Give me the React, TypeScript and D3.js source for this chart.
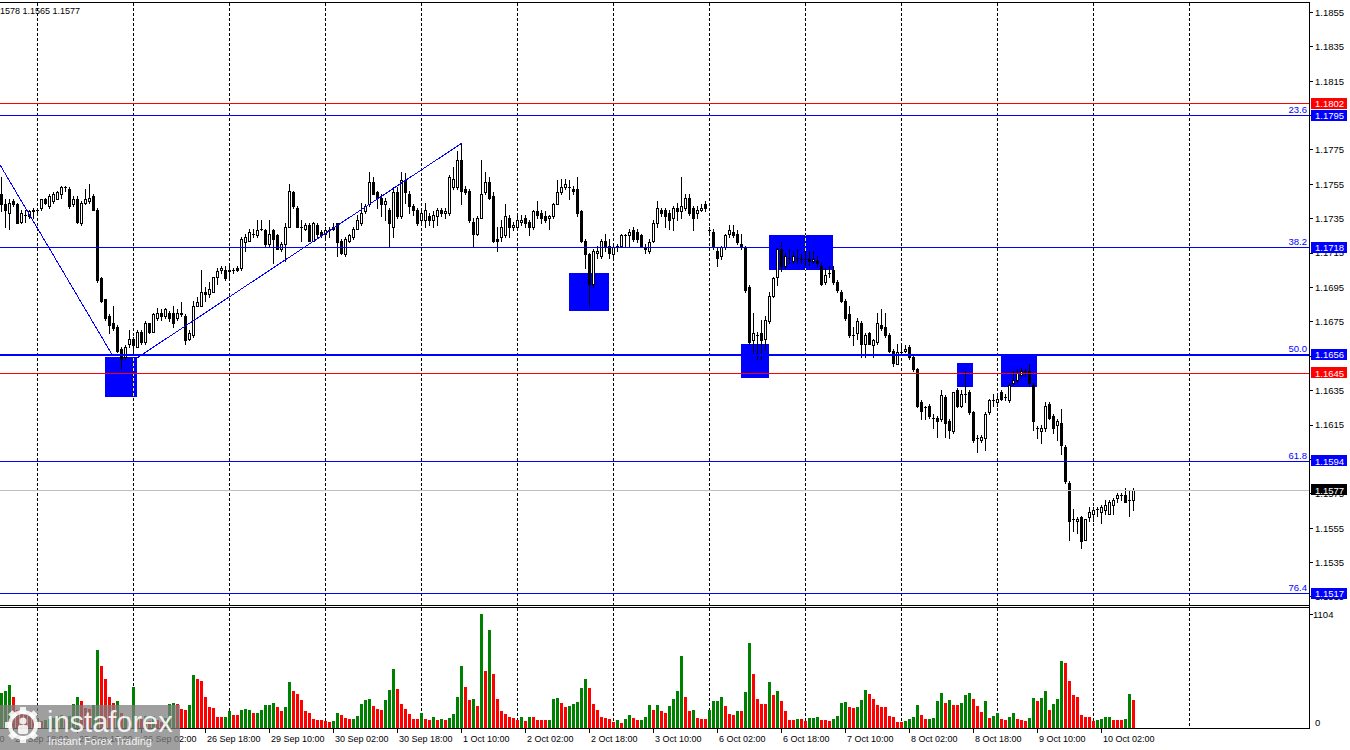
import React from "react";
import * as d3 from "d3";

// ---------- DATA (EURUSD H1) ----------
const opens = [
  1.1749,1.1743,1.1738,1.1745,1.1743,1.1733,1.1737,1.1736,1.1739,1.1740,
  1.1741,1.1746,1.1742,1.1745,1.1746,1.1749,1.1753,1.1752,1.1743,1.1746,
  1.1732,1.1744,1.1745,1.1748,1.1740,1.1700,1.1688,1.1678,1.1674,1.1672,
  1.1659,1.1654,1.1662,1.1665,1.1660,1.1669,1.1663,1.1674,1.1669,1.1677,
  1.1680,1.1678,1.1680,1.1680,1.1677,1.1680,1.1678,1.1665,1.1667,1.1684,
  1.1684,1.1692,1.1691,1.1692,1.1701,1.1705,1.1705,1.1704,1.1705,1.1706,
  1.1706,1.1721,1.1722,1.1726,1.1725,1.1729,1.1728,1.1720,1.1728,1.1725,
  1.1717,1.1720,1.1730,1.1750,1.1741,1.1730,1.1729,1.1731,1.1722,1.1731,
  1.1727,1.1726,1.1728,1.1729,1.1732,1.1722,1.1714,1.1722,1.1724,1.1729,
  1.1732,1.1739,1.1743,1.1756,1.1750,1.1747,1.1743,1.1740,1.1730,1.1750,
  1.1736,1.1757,1.1749,1.1742,1.1740,1.1734,1.1734,1.1736,1.1734,1.1736,
  1.1740,1.1738,1.1738,1.1753,1.1753,1.1769,1.1752,1.1751,1.1733,1.1726,
  1.1735,1.1750,1.1756,1.1748,1.1723,1.1724,1.1725,1.1735,1.1730,1.1730,
  1.1733,1.1735,1.1733,1.1730,1.1739,1.1738,1.1736,1.1735,1.1736,1.1743,
  1.1750,1.1753,1.1753,1.1752,1.1752,1.1739,1.1722,1.1714,1.1697,1.1715,
  1.1713,1.1722,1.1719,1.1714,1.1718,1.1719,1.1725,1.1725,1.1728,1.1727,
  1.1725,1.1718,1.1716,1.1722,1.1732,1.1740,1.1740,1.1738,1.1735,1.1741,
  1.1739,1.1741,1.1747,1.1741,1.1738,1.1740,1.1743,1.1728,1.1727,1.1716,
  1.1713,1.1718,1.1726,1.1727,1.1726,1.1720,1.1718,1.1695,1.1664,1.1667,
  1.1668,1.1665,1.1675,1.1690,1.1701,1.1717,1.1707,1.1712,1.1710,1.1712,
  1.1711,1.1711,1.1711,1.1710,1.1710,1.1707,1.1698,1.1703,1.1705,1.1698,
  1.1692,1.1687,1.1679,1.1667,1.1668,1.1674,1.1662,1.1668,1.1661,1.1663,
  1.1673,1.1672,1.1667,1.1658,1.1650,1.1657,1.1658,1.1660,1.1654,1.1647,
  1.1628,1.1625,1.1626,1.1619,1.1619,1.1618,1.1631,1.1617,1.1611,1.1635,
  1.1626,1.1633,1.1634,1.1622,1.1607,1.1606,1.1607,1.1622,1.1629,1.1628,
  1.1634,1.1631,1.1629,1.1639,1.1641,1.1644,1.1646,1.1646,1.1638,1.1613,
  1.1611,1.1613,1.1627,1.1620,1.1615,1.1616,1.1602,1.1581,1.1560,1.1559,
  1.1561,1.1548,1.1561,1.1563,1.1566,1.1564,1.1565,1.1563,1.1568,1.1572,
  1.1574,1.1574,1.1571,1.1571,
];
const highs = [
  1.1759,1.1746,1.1746,1.1746,1.1744,1.1740,1.1740,1.1740,1.1741,1.1741,
  1.1746,1.1747,1.1749,1.1750,1.1751,1.1754,1.1754,1.1753,1.1748,1.1748,
  1.1745,1.1752,1.1755,1.1749,1.1741,1.1701,1.1688,1.1679,1.1684,1.1673,
  1.1660,1.1661,1.1670,1.1666,1.1670,1.1670,1.1675,1.1674,1.1680,1.1683,
  1.1682,1.1683,1.1681,1.1684,1.1682,1.1686,1.1679,1.1670,1.1687,1.1689,
  1.1705,1.1695,1.1698,1.1701,1.1706,1.1707,1.1707,1.1707,1.1706,1.1707,
  1.1724,1.1726,1.1729,1.1729,1.1734,1.1734,1.1729,1.1734,1.1729,1.1726,
  1.1721,1.1732,1.1755,1.1751,1.1742,1.1734,1.1732,1.1732,1.1733,1.1732,
  1.1728,1.1730,1.1730,1.1732,1.1732,1.1723,1.1724,1.1726,1.1730,1.1737,
  1.1744,1.1743,1.1762,1.1759,1.1751,1.1749,1.1747,1.1741,1.1753,1.1753,
  1.1762,1.1761,1.1751,1.1743,1.1741,1.1740,1.1744,1.1738,1.1739,1.1741,
  1.1741,1.1741,1.1760,1.1765,1.1774,1.1779,1.1754,1.1752,1.1735,1.1736,
  1.1769,1.1762,1.1759,1.1750,1.1730,1.1734,1.1743,1.1737,1.1733,1.1738,
  1.1737,1.1737,1.1734,1.1740,1.1745,1.1740,1.1739,1.1737,1.1744,1.1757,
  1.1758,1.1758,1.1757,1.1754,1.1759,1.1740,1.1723,1.1715,1.1717,1.1719,
  1.1723,1.1726,1.1723,1.1720,1.1720,1.1726,1.1726,1.1729,1.1730,1.1729,
  1.1726,1.1720,1.1723,1.1734,1.1745,1.1741,1.1741,1.1740,1.1742,1.1744,
  1.1759,1.1749,1.1749,1.1742,1.1742,1.1743,1.1745,1.1730,1.1729,1.1718,
  1.1719,1.1726,1.1731,1.1731,1.1728,1.1726,1.1719,1.1696,1.1680,1.1669,
  1.1676,1.1678,1.1692,1.1701,1.1718,1.1721,1.1715,1.1717,1.1716,1.1717,
  1.1714,1.1716,1.1716,1.1716,1.1713,1.1709,1.1706,1.1707,1.1707,1.1699,
  1.1693,1.1688,1.1684,1.1672,1.1677,1.1675,1.1668,1.1669,1.1665,1.1680,
  1.1682,1.1680,1.1668,1.1659,1.1662,1.1662,1.1661,1.1661,1.1655,1.1648,
  1.1629,1.1626,1.1627,1.1621,1.1620,1.1635,1.1632,1.1618,1.1634,1.1636,
  1.1635,1.1646,1.1635,1.1623,1.1609,1.1609,1.1622,1.1630,1.1633,1.1633,
  1.1635,1.1633,1.1639,1.1646,1.1647,1.1648,1.1647,1.1650,1.1639,1.1614,
  1.1615,1.1628,1.1628,1.1621,1.1618,1.1624,1.1603,1.1582,1.1566,1.1561,
  1.1562,1.1560,1.1567,1.1567,1.1567,1.1568,1.1571,1.1571,1.1572,1.1575,
  1.1575,1.1578,1.1577,1.1578,
];
const lows = [
  1.1739,1.1730,1.1729,1.1742,1.1732,1.1732,1.1733,1.1735,1.1735,1.1738,
  1.1740,1.1743,1.1741,1.1744,1.1746,1.1747,1.1751,1.1741,1.1742,1.1732,
  1.1731,1.1743,1.1744,1.1740,1.1698,1.1686,1.1676,1.1668,1.1670,1.1657,
  1.1647,1.1653,1.1660,1.1656,1.1660,1.1662,1.1662,1.1668,1.1669,1.1676,
  1.1676,1.1677,1.1675,1.1672,1.1676,1.1678,1.1662,1.1664,1.1666,1.1684,
  1.1684,1.1687,1.1689,1.1692,1.1697,1.1703,1.1699,1.1700,1.1703,1.1704,
  1.1705,1.1716,1.1722,1.1724,1.1724,1.1728,1.1719,1.1719,1.1709,1.1717,
  1.1716,1.1710,1.1730,1.1741,1.1730,1.1722,1.1728,1.1722,1.1722,1.1724,
  1.1724,1.1724,1.1724,1.1728,1.1713,1.1714,1.1713,1.1721,1.1723,1.1729,
  1.1731,1.1738,1.1742,1.1749,1.1741,1.1736,1.1734,1.1718,1.1724,1.1735,
  1.1735,1.1744,1.1738,1.1737,1.1731,1.1733,1.1730,1.1731,1.1730,1.1731,
  1.1736,1.1735,1.1737,1.1752,1.1752,1.1743,1.1749,1.1733,1.1718,1.1725,
  1.1735,1.1749,1.1746,1.1721,1.1716,1.1722,1.1724,1.1724,1.1728,1.1729,
  1.1731,1.1730,1.1725,1.1729,1.1735,1.1732,1.1733,1.1729,1.1735,1.1743,
  1.1749,1.1752,1.1746,1.1749,1.1736,1.1721,1.1706,1.1684,1.1695,1.1712,
  1.1712,1.1716,1.1712,1.1712,1.1716,1.1718,1.1718,1.1718,1.1722,1.1721,
  1.1718,1.1715,1.1715,1.1721,1.1730,1.1736,1.1730,1.1729,1.1728,1.1734,
  1.1735,1.1740,1.1737,1.1728,1.1735,1.1739,1.1739,1.1726,1.1717,1.1707,
  1.1711,1.1717,1.1724,1.1724,1.1720,1.1717,1.1692,1.1662,1.1656,1.1653,
  1.1653,1.1659,1.1674,1.1689,1.1696,1.1704,1.1706,1.1709,1.1709,1.1709,
  1.1709,1.1708,1.1708,1.1709,1.1707,1.1696,1.1697,1.1701,1.1697,1.1692,
  1.1686,1.1676,1.1666,1.1661,1.1665,1.1654,1.1654,1.1662,1.1654,1.1662,
  1.1670,1.1666,1.1657,1.1649,1.1650,1.1656,1.1657,1.1653,1.1646,1.1625,
  1.1618,1.1618,1.1619,1.1613,1.1608,1.1617,1.1608,1.1607,1.1610,1.1625,
  1.1625,1.1628,1.1621,1.1605,1.1599,1.1605,1.1600,1.1621,1.1626,1.1626,
  1.1629,1.1629,1.1628,1.1638,1.1640,1.1643,1.1643,1.1638,1.1612,1.1607,
  1.1604,1.1611,1.1618,1.1610,1.1606,1.1598,1.1581,1.1548,1.1553,1.1552,
  1.1543,1.1548,1.1559,1.1559,1.1562,1.1558,1.1563,1.1563,1.1563,1.1570,
  1.1571,1.1570,1.1562,1.1565,
];
const closes = [
  1.1743,1.1740,1.1744,1.1743,1.1732,1.1738,1.1737,1.1739,1.1740,1.1740,
  1.1746,1.1744,1.1748,1.1749,1.1750,1.1753,1.1753,1.1742,1.1746,1.1733,
  1.1744,1.1746,1.1747,1.1740,1.1699,1.1687,1.1677,1.1673,1.1671,1.1658,
  1.1653,1.1660,1.1665,1.1661,1.1669,1.1663,1.1674,1.1669,1.1679,1.1680,
  1.1678,1.1682,1.1677,1.1674,1.1680,1.1679,1.1664,1.1668,1.1684,1.1686,
  1.1692,1.1691,1.1694,1.1701,1.1704,1.1706,1.1700,1.1705,1.1705,1.1705,
  1.1723,1.1724,1.1727,1.1726,1.1728,1.1729,1.1720,1.1726,1.1723,1.1717,
  1.1720,1.1730,1.1751,1.1742,1.1730,1.1730,1.1731,1.1722,1.1732,1.1726,
  1.1725,1.1728,1.1728,1.1730,1.1721,1.1715,1.1723,1.1725,1.1729,1.1734,
  1.1738,1.1742,1.1756,1.1749,1.1747,1.1743,1.1745,1.1732,1.1750,1.1736,
  1.1757,1.1750,1.1742,1.1740,1.1732,1.1738,1.1740,1.1734,1.1737,1.1740,
  1.1738,1.1739,1.1759,1.1758,1.1769,1.1751,1.1750,1.1734,1.1726,1.1735,
  1.1749,1.1756,1.1747,1.1722,1.1722,1.1730,1.1736,1.1730,1.1731,1.1734,
  1.1734,1.1732,1.1730,1.1739,1.1737,1.1735,1.1734,1.1736,1.1743,1.1750,
  1.1753,1.1755,1.1753,1.1751,1.1738,1.1722,1.1714,1.1697,1.1716,1.1716,
  1.1722,1.1718,1.1715,1.1718,1.1719,1.1725,1.1725,1.1727,1.1723,1.1723,
  1.1719,1.1717,1.1721,1.1732,1.1741,1.1738,1.1736,1.1734,1.1741,1.1739,
  1.1742,1.1747,1.1738,1.1735,1.1740,1.1741,1.1741,1.1728,1.1718,1.1712,
  1.1718,1.1725,1.1728,1.1725,1.1721,1.1718,1.1693,1.1663,1.1668,1.1667,
  1.1664,1.1676,1.1690,1.1700,1.1717,1.1707,1.1713,1.1712,1.1713,1.1712,
  1.1711,1.1711,1.1710,1.1711,1.1709,1.1697,1.1702,1.1703,1.1698,1.1693,
  1.1687,1.1677,1.1667,1.1667,1.1675,1.1662,1.1667,1.1662,1.1664,1.1674,
  1.1671,1.1667,1.1658,1.1651,1.1657,1.1657,1.1659,1.1654,1.1647,1.1626,
  1.1623,1.1625,1.1620,1.1619,1.1617,1.1632,1.1616,1.1612,1.1634,1.1626,
  1.1633,1.1633,1.1622,1.1606,1.1607,1.1608,1.1621,1.1629,1.1629,1.1630,
  1.1630,1.1631,1.1638,1.1641,1.1645,1.1646,1.1646,1.1639,1.1617,1.1613,
  1.1613,1.1626,1.1619,1.1613,1.1617,1.1603,1.1582,1.1559,1.1560,1.1560,
  1.1547,1.1560,1.1564,1.1565,1.1566,1.1567,1.1568,1.1570,1.1571,1.1574,
  1.1574,1.1570,1.1571,1.1577,
];
const volumes = [
  332,355,413,300,171,155,123,107,90,92,
  65,68,84,90,107,123,90,107,229,297,
  252,187,181,220,752,591,471,300,242,252,
  139,116,84,397,90,84,107,65,107,74,
  58,90,229,242,229,181,171,220,510,471,
  452,300,197,187,97,97,97,155,123,123,
  171,181,171,136,145,171,220,220,242,194,
  155,197,436,349,329,268,155,145,84,74,
  68,65,58,65,145,123,90,84,84,113,
  232,268,278,210,181,168,268,365,568,374,
  232,181,129,84,80,145,84,71,103,71,
  84,74,90,132,300,591,397,268,278,210,
  1101,549,946,520,278,161,132,97,96,74,
  97,65,103,100,74,72,70,74,278,284,
  242,194,213,232,245,387,471,387,226,171,
  100,90,84,58,74,48,84,123,90,71,
  74,103,220,171,220,155,145,213,278,349,
  688,300,155,171,90,84,82,171,258,260,
  291,213,129,123,161,155,339,823,520,278,
  229,226,436,310,358,252,161,74,72,84,
  82,65,92,95,98,74,68,66,84,107,
  242,245,194,192,200,268,365,326,274,220,
  200,194,107,105,58,58,65,84,103,220,
  123,84,86,94,258,336,239,268,220,218,
  239,316,336,278,210,152,258,94,113,142,
  84,74,103,142,84,74,65,94,287,258,
  287,355,171,229,278,646,626,452,310,297,
  123,103,101,65,74,84,103,104,74,73,
  72,84,326,268,
];
// G = volume bar drawn green (up), R = red (down)
const volumeDirs =
  "GGGR" + "RRRRRGRGGGGGRG" + "GGRRRG" + "GRRRRG" + "RGRGRR" + "GRGRRG" +
  "GGRRRG" + "GRRRRR" + "RRGGRR" + "GGGRGG" + "GGGRRG" + "GRRRRR" +
  "RRRRRG" + "GRRRGG" + "GGGRRR" + "GGGRRR" + "RRRGRR" + "GRGRGG" +
  "GGRRGR" + "GRGRRR" + "RRRRGR" + "GRRRRG" + "GGRRGG" + "GGGRRR" +
  "RRRRGR" + "GGRRGG" + "GRGRRG" + "GGGRRG" + "RRRGGG" + "GRRRGR" +
  "GGRRRR" + "GRGRRR" + "RGRRGG" + "GRRRGG" + "GGRRGG" + "GRRRRR" +
  "RRRRGG" + "GGRRGG" + "GGRGRR" + "GGGRRR" + "GRGGRR" + "GGRRRG" +
  "GRGGRG" + "GGRRRR" + "RRRRGG" + "GGRRRG" + "GR";

const timeLabels = [
  "24 Sep 02:00","24 Sep 18:00","25 Sep 10:00","26 Sep 02:00","26 Sep 18:00",
  "29 Sep 10:00","30 Sep 02:00","30 Sep 18:00","1 Oct 10:00","2 Oct 02:00",
  "2 Oct 18:00","3 Oct 10:00","6 Oct 02:00","6 Oct 18:00","7 Oct 10:00",
  "8 Oct 02:00","8 Oct 18:00","9 Oct 10:00","10 Oct 02:00",
];
const timeLabelBars = [-13,3,19,35,51,67,83,99,115,131,147,163,179,195,211,227,243,259,275];
const gridBars = [9,33,57,81,105,129,153,177,201,225,249,273,297];

const priceTicks = [
  1.1515,1.1535,1.1555,1.1575,1.1595,1.1615,1.1635,1.1655,1.1675,
  1.1695,1.1715,1.1735,1.1755,1.1775,1.1795,1.1815,1.1835,1.1855,
];
const fibPrices = [1.1795, 1.1718, 1.1656, 1.1594, 1.1517];
const fibLabels = ["23.6", "38.2", "50.0", "61.8", "76.4"];
const redLevels = [1.1802, 1.1645];
const bidPrice = 1.1577;
const volumeMax = 1104;
const headerText = "1578 1.1565 1.1577";

const zoneStart = [26, 142, 185, 192, 239, 250];
const zoneEnd = [34, 152, 192, 208, 243, 259];
const zoneHigh = [1.1654, 1.1703, 1.1662, 1.1725, 1.1651, 1.1656];
const zoneLow = [1.1631, 1.1681, 1.1642, 1.1705, 1.1637, 1.1637];

const trendBars = [[-5.25, 27.75], [34, 115.25]];
const trendPrices = [[1.1786, 1.1656], [1.1654, 1.1779]];

// ---------- CHART ----------
const FONT = "'Liberation Sans', Arial, sans-serif";
const RIGHT = 1309;

export default function App() {
  const n = closes.length;
  const x = d3.scaleLinear().domain([0, n - 1]).range([1, 1133]);
  const y = d3.scaleLinear().domain([1.150973, 1.186104]).range([606, 2]);
  const yv = d3.scaleLinear().domain([0, volumeMax]).range([728, 614]);
  const px = (i: number) => Math.round(x(i));
  const py = (p: number) => Math.floor(y(p));
  const fmt = d3.format(".4f");

  const gridLines = (y1: number, y2: number, color: string, key: string, clip?: string) =>
    gridBars.map((b) => (
      <line
        key={key + b}
        x1={px(b) + 0.5}
        x2={px(b) + 0.5}
        y1={y1}
        y2={y2}
        stroke={color}
        strokeDasharray="3,2"
        clipPath={clip}
      />
    ));

  const candles = closes.map((c, i) => {
    const o = opens[i];
    const cx = px(i);
    const top = py(Math.max(o, c));
    const bot = py(Math.min(o, c));
    const hy = py(highs[i]);
    const ly = py(lows[i]);
    let body;
    if (c > o && bot - top >= 2) {
      body = <rect x={cx - 0.5} y={top + 0.5} width={2} height={bot - top} fill="#fff" stroke="#000" />;
    } else if (c !== o) {
      body = <rect x={cx - 1} y={top} width={3} height={Math.max(bot - top + 1, 1)} fill="#000" />;
    } else {
      body = <rect x={cx - 1} y={top} width={3} height={1} fill="#000" />;
    }
    return (
      <g key={"c" + i}>
        <rect x={cx} y={hy} width={1} height={ly - hy + 1} fill="#000" />
        {body}
      </g>
    );
  });

  const volBars = volumes.map((v, i) => {
    const top = Math.floor(yv(v));
    const cx = px(i);
    return (
      <rect
        key={"v" + i}
        x={cx - 1}
        y={top}
        width={3}
        height={728 - top}
        fill={volumeDirs.charAt(i) === "R" ? "#ff0000" : "#008000"}
      />
    );
  });

  const zones = zoneStart.map((s, k) => ({
    x: px(s),
    y: py(zoneHigh[k]),
    w: px(zoneEnd[k]) - px(s),
    h: py(zoneLow[k]) - py(zoneHigh[k]),
  }));

  const hLine = (p: number, color: string, key: string, thick = false) => (
    <rect key={key} x={0} y={py(p)} width={RIGHT} height={thick ? 2 : 1} fill={color} />
  );

  const boxLabel = (p: number, bg: string, key: string) => {
    const cy = y(p);
    return (
      <g key={key}>
        <rect x={1311} y={Math.round(cy) - 6} width={36} height={11} fill={bg} />
        <text x={1315} y={cy + 3.4} fill="#fff" fontSize={9.5} fontFamily={FONT}>
          {fmt(p)}
        </text>
      </g>
    );
  };

  const gearTeeth = d3.range(8).map((k) => k * 45);

  return (
    <div style={{ position: "fixed", left: 0, top: 0, width: 1350, height: 750, background: "#fff" }}>
      <svg width={1350} height={750} style={{ display: "block" }} shapeRendering="crispEdges">
        <defs>
          <clipPath id="zoneClip">
            {zones.map((z, k) => (
              <rect key={"zc" + k} x={z.x} y={z.y} width={z.w} height={z.h} />
            ))}
          </clipPath>
        </defs>
        <rect x={0} y={0} width={1350} height={750} fill="#fff" />

        {/* grid */}
        {gridLines(3, 605, "#000", "gp")}
        {gridLines(608, 728, "#000", "gv")}

        {/* zones */}
        {zones.map((z, k) => (
          <rect key={"z" + k} x={z.x} y={z.y} width={z.w} height={z.h} fill="#0000ff" />
        ))}
        {gridLines(3, 605, "#ffff00", "gy", "url(#zoneClip)")}

        {/* candles */}
        {candles}

        {/* levels */}
        {hLine(bidPrice, "#c0c0c0", "bid")}
        {redLevels.map((p, k) => hLine(p, "#ff0000", "red" + k))}
        {fibPrices.map((p, k) => hLine(p, "#0000ff", "fib" + k, fibLabels[k] === "50.0"))}
        {fibPrices.map((p, k) => (
          <text
            key={"fl" + k}
            x={1307}
            y={py(p) - 2}
            textAnchor="end"
            fill="#0000ff"
            fontSize={9.5}
            fontFamily={FONT}
          >
            {fibLabels[k]}
          </text>
        ))}

        {/* trend lines */}
        {trendBars.map((tb, k) => (
          <line
            key={"t" + k}
            x1={x(tb[0])}
            y1={y(trendPrices[k][0])}
            x2={x(tb[1])}
            y2={y(trendPrices[k][1])}
            stroke="#0000ff"
            strokeWidth={1}
          />
        ))}

        {/* volume */}
        {volBars}

        {/* frames */}
        <rect x={0} y={2} width={RIGHT} height={1} fill="#000" />
        <rect x={0} y={605} width={RIGHT} height={1} fill="#000" />
        <rect x={0} y={607} width={RIGHT} height={1} fill="#000" />
        <rect x={0} y={728} width={RIGHT} height={1} fill="#000" />
        <rect x={RIGHT} y={2} width={1} height={727} fill="#000" />

        {/* price axis */}
        {priceTicks.map((p, k) => (
          <g key={"pt" + k}>
            <rect x={RIGHT} y={py(p)} width={4} height={1} fill="#000" />
            <text x={1315} y={y(p) + 3.4} fontSize={9.5} fontFamily={FONT} fill="#000">
              {fmt(p)}
            </text>
          </g>
        ))}
        {redLevels.map((p, k) => boxLabel(p, "#ff0000", "rb" + k))}
        {fibPrices.map((p, k) => boxLabel(p, "#0000ff", "fb" + k))}
        {boxLabel(bidPrice, "#000000", "bb")}

        {/* volume axis */}
        <rect x={RIGHT} y={614} width={4} height={1} fill="#000" />
        <text x={1313} y={618} fontSize={9.5} fontFamily={FONT}>{volumeMax}</text>
        <text x={1315} y={726} fontSize={9.5} fontFamily={FONT}>0</text>

        {/* time axis */}
        {timeLabels.map((t, k) => (
          <g key={"tl" + k}>
            <rect x={px(timeLabelBars[k])} y={729} width={1} height={4} fill="#000" />
            <text x={px(timeLabelBars[k]) + 2} y={742} fontSize={9} fontFamily={FONT} fill="#000">
              {t}
            </text>
          </g>
        ))}

        {/* header */}
        <text x={0} y={13.5} fontSize={9} fontFamily={FONT} fill="#000">{headerText}</text>

        {/* watermark */}
        <g shapeRendering="geometricPrecision">
          <rect x={0} y={705} width={180} height={45} fill="#7f7f7f" fillOpacity={0.75} />
          <g transform="translate(23,725)" fill="#fff" fillOpacity={0.85}>
            {gearTeeth.map((a) => (
              <rect key={"gt" + a} x={-3} y={-18} width={6} height={7} transform={`rotate(${a})`} />
            ))}
            <circle r={13} fill="none" stroke="#fff" strokeOpacity={0.85} strokeWidth={4} />
            <circle cy={-4} r={3.5} />
            <rect x={-5} y={0} width={10} height={9} rx={2} />
          </g>
          <text x={47} y={732} fontSize={29} fontFamily={FONT} fill="#fff" fillOpacity={0.88}>
            instaforex
          </text>
          <text x={48} y={745} fontSize={11} fontFamily={FONT} fill="#fff" fillOpacity={0.88}>
            Instant Forex Trading
          </text>
        </g>
      </svg>
    </div>
  );
}
